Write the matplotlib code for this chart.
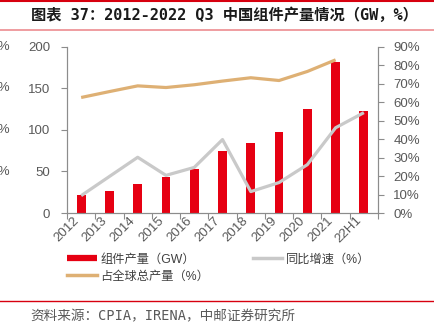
import matplotlib.pyplot as plt
from matplotlib.lines import Line2D
from matplotlib.ticker import PercentFormatter

plt.rcParams['font.family'] = ['Liberation Sans', 'Noto Sans CJK SC']

years = ['2012', '2013', '2014', '2015', '2016', '2017', '2018', '2019', '2020', '2021', '22H1']
output_gw = [22, 27, 35, 43, 53, 75, 84, 98, 125, 182, 123]
yoy = [0.094, 0.198, 0.302, 0.204, 0.247, 0.398, 0.116, 0.165, 0.262, 0.462, 0.544]
share = [0.626, 0.658, 0.689, 0.680, 0.695, 0.715, 0.733, 0.718, 0.767, 0.830]

red = '#E60012'
grey = '#C9C9C9'
gold = '#DEB074'
tick_c = '#595959'

fig = plt.figure(figsize=(4.34, 3.25), dpi=100)
ax = fig.add_axes([0.1544, 0.3446, 0.7166, 0.511])
ax2 = ax.twinx()

x = list(range(len(years)))
ax.bar(x, output_gw, width=0.31, color=red, zorder=2)
ax2.plot(x, yoy, color=grey, lw=2.3, solid_capstyle='butt')
ax2.plot(x[:len(share)], share, color=gold, lw=2.3, solid_capstyle='butt')

ax.set_xlim(-0.5, len(years) - 0.5)
ax.set_ylim(0, 200)
ax.set_yticks([0, 50, 100, 150, 200])
ax2.set_ylim(0, 0.9)
ax2.set_yticks([i / 10 for i in range(10)])
ax2.yaxis.set_major_formatter(PercentFormatter(1.0, decimals=0))

# category ticks sit between the bars, labels at the bar centres
ax.set_xticks([i - 0.5 for i in range(len(years) + 1)])
ax.set_xticklabels([])
ax.set_xticks(x, minor=True)
ax.set_xticklabels(years, minor=True, rotation=45, ha='right', va='top',
                   fontsize=9.5, color=tick_c)
ax.tick_params(axis='x', which='minor', length=0, pad=1)
ax.tick_params(axis='x', which='major', length=4, color='#8C8C8C')

for a in (ax, ax2):
    a.spines['top'].set_visible(False)
    for s in ('left', 'right', 'bottom'):
        a.spines[s].set_color('#8C8C8C')
ax.tick_params(axis='y', length=4, color='#8C8C8C', labelsize=9.5, labelcolor=tick_c, pad=8)
ax2.tick_params(axis='y', length=4, color='#8C8C8C', labelsize=9.5, labelcolor=tick_c, pad=7)

handles = [
    Line2D([], [], color=red, lw=4.5, solid_capstyle='butt'),
    Line2D([], [], color=gold, lw=2.5),
    Line2D([], [], color=grey, lw=2.5),
]
labels = ['组件产量（GW）', '占全球总产量（%）', '同比增速（%）']
fig.legend(handles, labels, ncol=2, loc='upper left', bbox_to_anchor=(0.155, 0.22),
           frameon=False, fontsize=8.8, handlelength=2.4, handletextpad=0.3,
           columnspacing=3.6, labelspacing=0.4, borderaxespad=0, borderpad=0,
           labelcolor='#404040')

# header and footer rules
fig.add_artist(Line2D([0, 1], [0.996, 0.996], color='#D7000F', lw=1.5))
fig.add_artist(Line2D([0, 1], [0.907, 0.907], color='#EC8C90', lw=1.2))
fig.add_artist(Line2D([0, 1], [0.075, 0.075], color='#D7000F', lw=1.0))

fig.text(0.072, 0.953, '图表 37：2012-2022 Q3 中国组件产量情况（GW，%）',
         family=['DejaVu Sans Mono', 'Noto Sans CJK SC'], fontweight='bold', fontsize=11,
         va='center', ha='left', color='#1A1A1A')
fig.text(0.069, 0.027, '资料来源：CPIA，IRENA，中邮证券研究所',
         family=['DejaVu Sans Mono', 'Noto Sans CJK SC'], fontsize=9.8,
         va='center', ha='left', color='#595959')

# clipped tick labels of the neighbouring chart on the far left
for yy in [47, 88, 130, 172]:
    fig.text(0.023, 1 - yy / 325, '60%', ha='right', va='center', fontsize=9.5, color=tick_c)

fig.savefig('out.png', dpi=100)
